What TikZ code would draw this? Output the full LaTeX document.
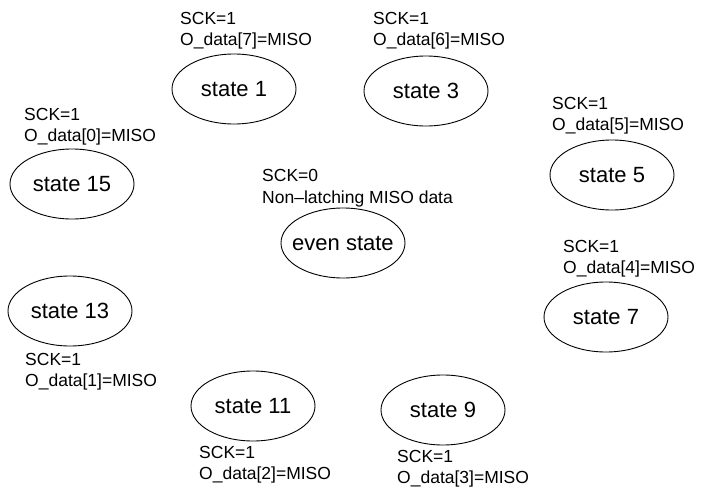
\documentclass[tikz,border=0pt]{standalone}
\usepackage{fontspec}
\setmainfont{Liberation Sans}
\usetikzlibrary{shapes.geometric}

\begin{document}
\begin{tikzpicture}[x=1pt, y=-1pt,
    stateellipse/.style={ellipse, draw, line width=0.9pt, minimum width=124pt, minimum height=70pt, inner sep=0pt, font=\fontsize{22}{26}\selectfont},
    info/.style={anchor=north west, inner sep=0pt, align=left, font=\fontsize{17.5}{21.5}\selectfont}]
    \useasboundingbox (0,0) rectangle (705,493);
    % states
    \node[stateellipse] (s1) at (234,89) {state 1};
    \node[stateellipse] (s3) at (426,91) {state 3};
    \node[stateellipse] (s5) at (612,175) {state 5};
    \node[stateellipse] (s7) at (606,317) {state 7};
    \node[stateellipse] (s9) at (443,410) {state 9};
    \node[stateellipse] (s11) at (253,406) {state 11};
    \node[stateellipse] (s13) at (70,311) {state 13};
    \node[stateellipse] (s15) at (72,184) {state 15};
    \node[stateellipse, inner xsep=-7pt] (even) at (343,243) {even state};
    % outputs of each state
    \node[info] (o1) at (180,12) {SCK=1\\O\_data[7]=MISO};
    \node[info] (o3) at (373,12) {SCK=1\\O\_data[6]=MISO};
    \node[info] (o5) at (552,97) {SCK=1\\O\_data[5]=MISO};
    \node[info] (o7) at (563,240) {SCK=1\\O\_data[4]=MISO};
    \node[info] (o9) at (397,450) {SCK=1\\O\_data[3]=MISO};
    \node[info] (o11) at (199,446) {SCK=1\\O\_data[2]=MISO};
    \node[info] (o13) at (25,353) {SCK=1\\O\_data[1]=MISO};
    \node[info] (o15) at (24,108) {SCK=1\\O\_data[0]=MISO};
    \node[info, font=\fontsize{17.5}{22.5}\selectfont] (oeven) at (262,169) {SCK=0\\Non--latching MISO data};
\end{tikzpicture}
\end{document}
